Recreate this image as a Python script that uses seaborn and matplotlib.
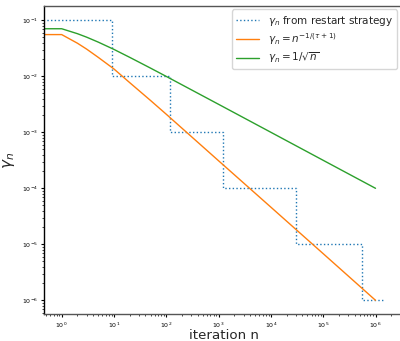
import matplotlib
matplotlib.use("Agg")
import matplotlib.pyplot as plt
import seaborn as sns
import pandas as pd

# ------------------------------
# Data
# ------------------------------
# restart strategy: step size held until the next restart
restart_n = [0, 9, 120, 1200, 30000, 540000, 1500000]
restart_gamma = [1e-1, 1e-2, 1e-3, 1e-4, 1e-5, 1e-6, 1e-6]

# smooth schedules (n = 0 is clipped on the log axis, giving the flat start)
curve_n = [0, 1, 2, 3, 5, 10, 20, 50, 100, 1000, 10000, 100000, 1000000]
gamma_tau = [0.0556, 0.0556, 0.039, 0.0306, 0.0218, 0.0135, 0.0077, 0.0037,
             0.0021, 3.1e-4, 4.6e-5, 6.8e-6, 1.0e-6]
gamma_sqrt = [0.0707, 0.0707, 0.0577, 0.05, 0.0408, 0.0302, 0.0218, 0.014,
              0.00995, 0.00316, 0.001, 3.16e-4, 1.0e-4]

labels = [r'$\gamma_n$ from restart strategy',
          r'$\gamma_n = n^{-1/(\tau+1)}$',
          r'$\gamma_n = 1/\sqrt{n}$']

restart_df = pd.DataFrame({'n': restart_n, 'gamma': restart_gamma})
curves_df = pd.DataFrame({'n': curve_n, 'tau': gamma_tau, 'sqrt': gamma_sqrt})

# ------------------------------
# Plot
# ------------------------------
sns.set_style("white")
plt.rcParams['font.family'] = ['DejaVu Sans']

fig = plt.figure(figsize=(4, 3.41), dpi=100)
# right spine sits just past the picture edge, as in the reference crop
ax = fig.add_axes([0.11, 0.0783, 0.899, 0.9032])

sns.lineplot(data=restart_df, x='n', y='gamma', ax=ax, sort=False,
             drawstyle='steps-post', linestyle=':', color='#1f77b4',
             linewidth=1.0, label=labels[0])
sns.lineplot(data=curves_df, x='n', y='tau', ax=ax, sort=False,
             color='#ff7f0e', linewidth=1.0, label=labels[1])
sns.lineplot(data=curves_df, x='n', y='sqrt', ax=ax, sort=False,
             color='#2ca02c', linewidth=1.0, label=labels[2])

ax.set_xscale('log')
ax.set_yscale('log')
ax.set_xlim(10 ** -0.338, 10 ** 6.537)
ax.set_ylim(10 ** -6.25, 10 ** -0.75)

ax.set_xlabel('iteration n', fontsize=9.6, labelpad=-0.6)
ax.set_ylabel(r'$\gamma_n$', fontsize=11, labelpad=3)

ax.tick_params(axis='both', which='major', labelsize=4.5, length=2.5,
               width=0.8, pad=2, colors='black', bottom=True, left=True)
ax.tick_params(axis='both', which='minor', length=1.5, width=0.6,
               bottom=True, left=True)

ax.spines['left'].set_color('black')
for side in ['top', 'bottom']:
    ax.spines[side].set_color('#555555')
for side in ax.spines:
    ax.spines[side].set_linewidth(1.0)
ax.spines['right'].set_visible(False)

leg = ax.legend(loc='upper right', fontsize=7.5, frameon=True,
                handlelength=2.2, borderpad=0.4, labelspacing=0.35,
                borderaxespad=0.3, bbox_to_anchor=(0.99, 1.0))
leg.get_frame().set_edgecolor('#cccccc')

fig.savefig('out.png', dpi=100)
